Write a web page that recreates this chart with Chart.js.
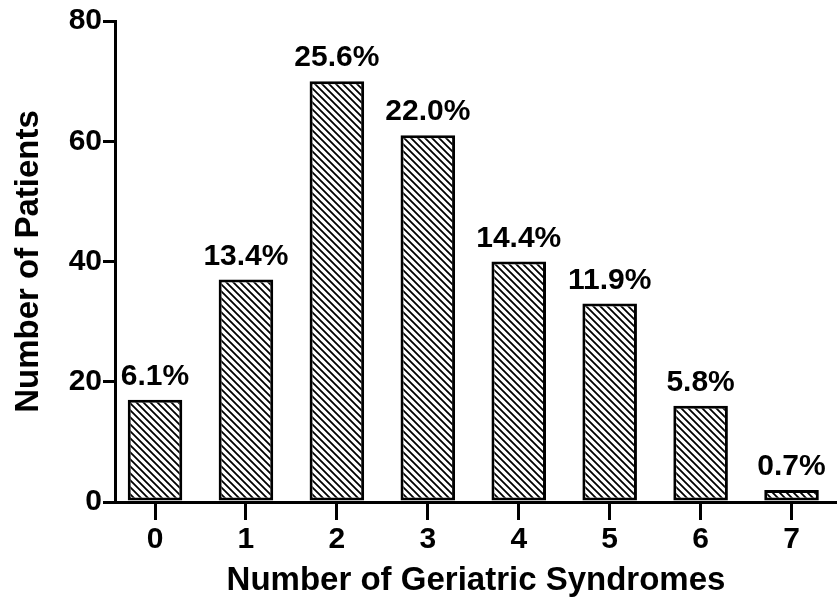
<!DOCTYPE html>
<html>
<head>
<meta charset="utf-8">
<script src="https://cdn.jsdelivr.net/npm/chart.js@4"></script>
<style>
  html, body { margin: 0; padding: 0; background: #fff; }
  #wrap { width: 837px; height: 606px; }
</style>
</head>
<body>
<div id="wrap"><canvas id="chart" width="837" height="606"></canvas></div>
<script>
const categories = ["0", "1", "2", "3", "4", "5", "6", "7"];
const patients = [17, 37, 70, 61, 40, 33, 16, 2];
const percentLabels = ["6.1%", "13.4%", "25.6%", "22.0%", "14.4%", "11.9%", "5.8%", "0.7%"];

const font = "Arial, 'Liberation Sans', sans-serif";

// hatch pattern, lines going from top-left to bottom-right
function hatch() {
    const s = 7;
    const c = document.createElement("canvas");
    c.width = s; c.height = s;
    const g = c.getContext("2d");
    g.fillStyle = "#fff";
    g.fillRect(0, 0, s, s);
    g.strokeStyle = "#000";
    g.lineWidth = 1.8;
    g.beginPath();
    g.moveTo(-1, -1); g.lineTo(s + 1, s + 1);
    g.moveTo(-1, s - 1); g.lineTo(1, s + 1);
    g.moveTo(s - 1, -1); g.lineTo(s + 1, 1);
    g.stroke();
    return g.createPattern(c, "repeat");
}

const ctx = document.getElementById("chart");

const percentPlugin = {
    id: "percentPlugin",
    afterDatasetsDraw(chart) {
        const c = chart.ctx;
        const meta = chart.getDatasetMeta(0);
        c.save();
        c.fillStyle = "#000";
        c.font = "bold 30px " + font;
        c.textAlign = "center";
        c.textBaseline = "alphabetic";
        meta.data.forEach((bar, i) => {
            c.fillText(percentLabels[i], bar.x, bar.y - 15);
        });
        c.restore();
    }
};

const chart = new Chart(ctx, {
    type: "bar",
    data: {
        datasets: [{
            data: patients.map((v, i) => ({ x: i, y: v })),
            backgroundColor: hatch(),
            borderColor: "#000",
            borderWidth: 3,
            borderSkipped: false,
            barPercentage: 0.6,
            categoryPercentage: 1
        }]
    },
    options: {
        responsive: false,
        animation: false,
        layout: { padding: { top: 21, right: 0, left: 0, bottom: 0 } },
        plugins: {
            legend: { display: false },
            tooltip: { enabled: false }
        },
        scales: {
            x: {
                type: "linear",
                min: -0.44,
                max: 7.5,
                offset: false,
                grid: { offset: false, drawOnChartArea: false, tickLength: 18, color: "#000", lineWidth: 3 },
                border: { color: "#000", width: 3 },
                ticks: {
                    stepSize: 1,
                    includeBounds: false,
                    color: "#000",
                    font: { family: font, size: 30, weight: "bold" },
                    padding: 2,
                    callback: (v) => categories[v]
                },
                title: {
                    display: true,
                    text: "Number of Geriatric Syndromes",
                    color: "#000",
                    font: { family: font, size: 33, weight: "bold" },
                    padding: { top: 0, bottom: 5 }
                },
                afterFit(scale) { scale.height = 104; }
            },
            y: {
                min: 0,
                max: 80,
                grid: { drawOnChartArea: false, tickLength: 12, color: "#000", lineWidth: 3 },
                border: { color: "#000", width: 3 },
                ticks: { stepSize: 20, color: "#000", font: { family: font, size: 30, weight: "bold" }, padding: 1 },
                title: {
                    display: true,
                    text: "Number of Patients",
                    color: "#000",
                    font: { family: font, size: 33, weight: "bold" },
                    padding: { top: 9, bottom: 0 }
                },
                afterFit(scale) { scale.width = 115; }
            }
        }
    },
    plugins: [percentPlugin]
});
</script>
</body>
</html>
